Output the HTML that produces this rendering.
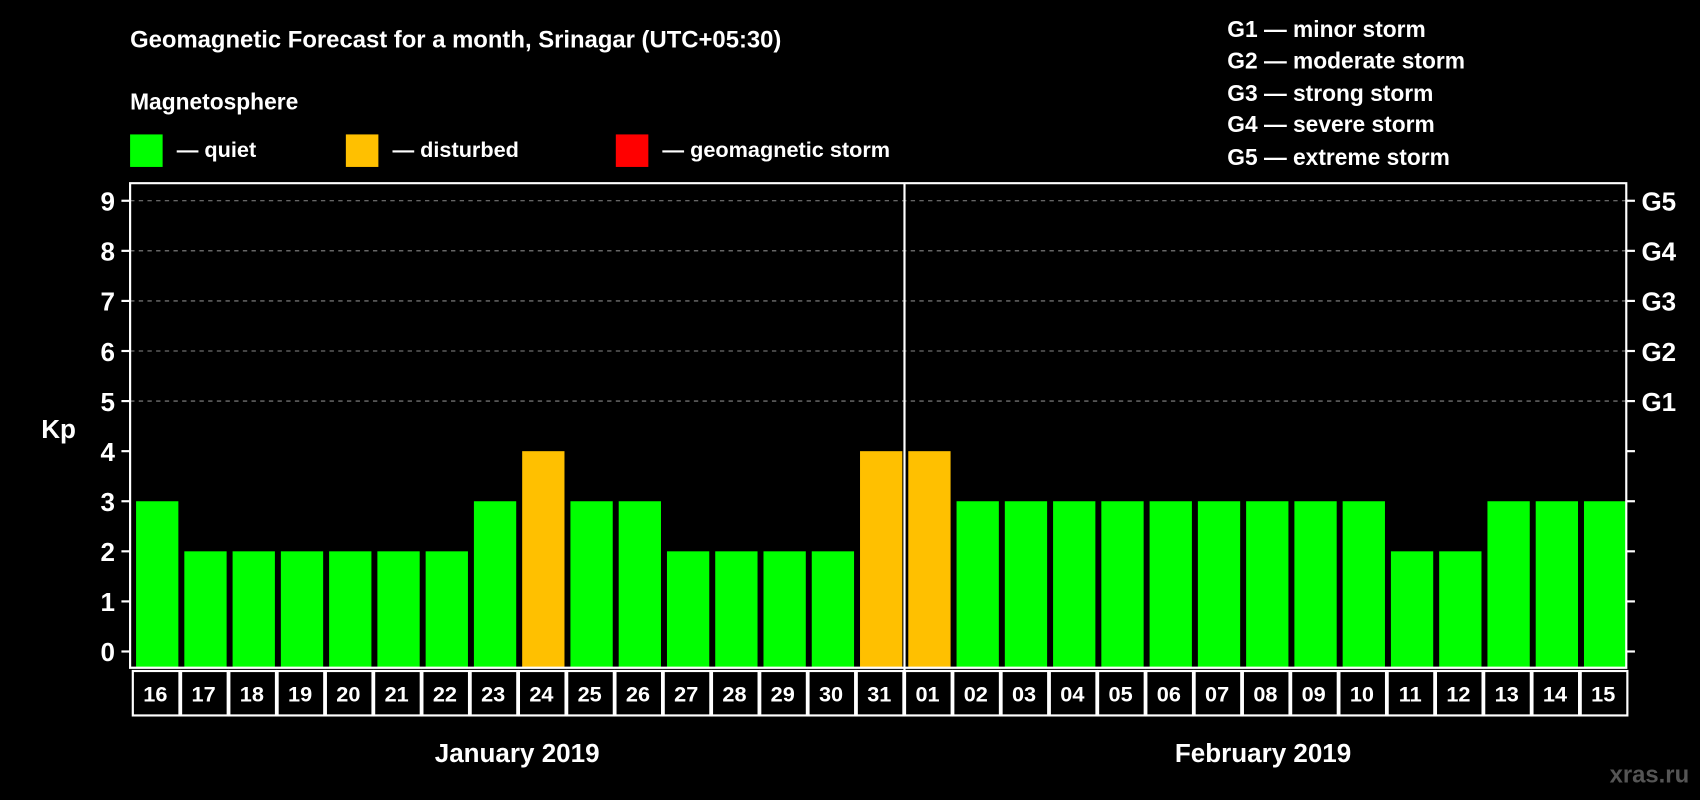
<!DOCTYPE html>
<html><head><meta charset="utf-8"><style>
html,body{margin:0;padding:0;background:#000;}
svg{display:block;font-family:"Liberation Sans",sans-serif;font-weight:bold;}
</style></head><body>
<svg id="chart" width="1700" height="800" viewBox="0 0 1568 738" preserveAspectRatio="none" xmlns="http://www.w3.org/2000/svg">
<rect width="1568" height="738" fill="#000"/>
<text x="120" y="44" fill="#fff" font-size="22">Geomagnetic Forecast for a month, Srinagar (UTC+05:30)</text>
<text x="120" y="101" fill="#fff" font-size="21">Magnetosphere</text>
<g><rect x="120" y="124" width="30" height="30" fill="#00ff00"/><text x="163" y="145" fill="#fff" font-size="20">— quiet</text></g>
<g><rect x="319" y="124" width="30" height="30" fill="#ffc000"/><text x="362" y="145" fill="#fff" font-size="20">— disturbed</text></g>
<g><rect x="568" y="124" width="30" height="30" fill="#ff0000"/><text x="611" y="145" fill="#fff" font-size="20">— geomagnetic storm</text></g>
<g fill="#fff" font-size="21">
<text x="1132" y="34">G1 — minor storm</text>
<text x="1132" y="63">G2 — moderate storm</text>
<text x="1132" y="93">G3 — strong storm</text>
<text x="1132" y="122">G4 — severe storm</text>
<text x="1132" y="152">G5 — extreme storm</text>
</g>
<text x="38" y="404" fill="#fff" font-size="24">Kp</text>
<g id="grid"></g>
<g id="bars"></g>
<g id="axes"></g>
<g id="dates"></g>
<text x="477" y="703" fill="#fff" font-size="24" text-anchor="middle">January 2019</text>
<text x="1165" y="703" fill="#fff" font-size="24" text-anchor="middle">February 2019</text>
<text x="1558" y="722" fill="#555" font-size="22" text-anchor="end">xras.ru</text>
</svg>
<script>
const days = ["16","17","18","19","20","21","22","23","24","25","26","27","28","29","30","31","01","02","03","04","05","06","07","08","09","10","11","12","13","14","15"];
const kpValues = [3,2,2,2,2,2,2,3,4,3,3,2,2,2,2,4,4,3,3,3,3,3,3,3,3,3,2,2,3,3,3];
const yTicks = [0,1,2,3,4,5,6,7,8,9];
const gLabels = ["","","","","","G1","G2","G3","G4","G5"];

const NS = "http://www.w3.org/2000/svg";
const L = 120, R = 1500, T = 169, B = 616;
const y0 = 601, unit = 46.2;
const step = (R - L) / days.length;
function yScale(v){ return y0 - v * unit; }
function xScale(i){ return L + step * i; }
function mk(tag, attrs, parent){
  const e = document.createElementNS(NS, tag);
  for (const k in attrs) e.setAttribute(k, attrs[k]);
  parent.appendChild(e);
  return e;
}
const grid = document.getElementById('grid');
const bars = document.getElementById('bars');
const axes = document.getElementById('axes');
const dates = document.getElementById('dates');

yTicks.forEach((t, i) => {
  const y = yScale(t);
  if (t >= 5) {
    const gl = mk('line', {x1:L, x2:R, y1:y, y2:y, stroke:'#888', 'stroke-width':1, 'stroke-dasharray':'4,4'}, grid);
    
    
  }
  const lt = mk('line', {x1:L-8, x2:L, y1:y, y2:y, stroke:'#fff', 'stroke-width':2}, axes);
  
  
  const rt = mk('line', {x1:R, x2:R+8, y1:y, y2:y, stroke:'#fff', 'stroke-width':2}, axes);
  
  
  const tl = mk('text', {x:L-14, y:y+9, fill:'#fff', 'font-size':24, 'text-anchor':'end'}, axes);
  tl.textContent = t;
  
  
  if (gLabels[i]) {
    const gt = mk('text', {x:R+14, y:y+9, fill:'#fff', 'font-size':24}, axes);
    gt.textContent = gLabels[i];
    
    
  }
});

kpValues.forEach((v, i) => {
  const color = v >= 5 ? '#ff0000' : (v >= 4 ? '#ffc000' : '#00ff00');
  const yt = yScale(v);
  const b = mk('rect', {x:xScale(i)+5.5, y:yt, width:step-5.5, height:B-yt, fill:color}, bars);
  
  
  const c = mk('rect', {x:xScale(i)+2.5, y:619, width:step-1.5, height:41, fill:'none', stroke:'#fff', 'stroke-width':2}, dates);
  
  
  const dt = mk('text', {x:xScale(i)+step/2+1, y:647, fill:'#fff', 'font-size':20, 'text-anchor':'middle'}, dates);
  dt.textContent = days[i];
  
  
});

const frame = mk('path', {d:`M${L} ${B} L${L} ${T} L${R} ${T} L${R} ${B} Z`, fill:'none', stroke:'#fff', 'stroke-width':2}, axes);


const splitIdx = days.indexOf("01");
const sx = xScale(splitIdx) + 2;
const div = mk('line', {x1:sx, x2:sx, y1:T, y2:660, stroke:'#fff', 'stroke-width':2}, axes);


</script>
</body></html>
